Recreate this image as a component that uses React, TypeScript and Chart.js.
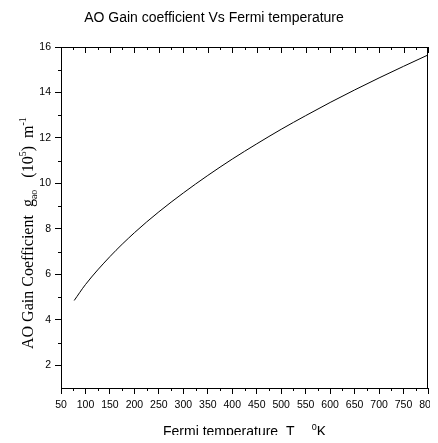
import React, { useEffect, useRef } from "react";
import { Chart, registerables } from "chart.js";

Chart.register(...registerables);

const titleText = "AO Gain coefficient Vs Fermi temperature";
const temperatures = [77, 100, 150, 200, 250, 300, 350, 400, 450, 500, 550, 600, 650, 700, 750, 800];
const gainValues = [4.85, 5.55, 6.78, 7.83, 8.75, 9.58, 10.35, 11.07, 11.74, 12.38, 12.98, 13.56, 14.11, 14.64, 15.15, 15.65];
const xTicks = [50, 100, 150, 200, 250, 300, 350, 400, 450, 500, 550, 600, 650, 700, 750, 800];
const xMinorTicks = [75, 125, 175, 225, 275, 325, 375, 425, 475, 525, 575, 625, 675, 725, 775];
const yTicks = [2, 4, 6, 8, 10, 12, 14, 16];
const yMinorTicks = [3, 5, 7, 9, 11, 13, 15];

const SANS = '"Liberation Sans", Arial, sans-serif';
const SERIF = '"Liberation Serif", "Times New Roman", serif';

type Piece = { t: string; kind: "n" | "sub" | "sup" };

function drawRich(
  ctx: CanvasRenderingContext2D,
  pieces: Piece[],
  size: number,
  family: string,
  anchorX: number,
  baseline: number,
  align: "center" | "start",
  subOffset: number,
  supOffset: number
) {
  const small = Math.round(size * 0.65);
  const fontFor = (k: string) => `${k === "n" ? size : small}px ${family}`;
  let total = 0;
  const widths = pieces.map((p) => {
    ctx.font = fontFor(p.kind);
    const w = ctx.measureText(p.t).width;
    total += w;
    return w;
  });
  let x = align === "center" ? anchorX - total / 2 : anchorX;
  ctx.textAlign = "left";
  ctx.textBaseline = "alphabetic";
  pieces.forEach((p, i) => {
    ctx.font = fontFor(p.kind);
    let y = baseline;
    if (p.kind === "sub") y = baseline + subOffset;
    if (p.kind === "sup") y = baseline - supOffset;
    ctx.fillText(p.t, x, y);
    x += widths[i];
  });
}

const decorations = {
  id: "decorations",
  afterDraw(chart: any) {
    const ctx: CanvasRenderingContext2D = chart.ctx;
    const { left, right, top, bottom } = chart.chartArea;
    const xs = chart.scales.x;
    const ys = chart.scales.y;
    ctx.save();
    ctx.strokeStyle = "#000";
    ctx.lineWidth = 1;
    ctx.beginPath();
    const ty = Math.round(top) + 0.5;
    const rx = Math.round(right) - 0.5;
    ctx.moveTo(left, ty);
    ctx.lineTo(right, ty);
    ctx.moveTo(rx, top);
    ctx.lineTo(rx, bottom);
    xTicks.forEach((v) => {
      const px = Math.round(xs.getPixelForValue(v)) + 0.5;
      ctx.moveTo(px, top);
      ctx.lineTo(px, top + 6);
    });
    xMinorTicks.forEach((v) => {
      const px = Math.round(xs.getPixelForValue(v)) + 0.5;
      ctx.moveTo(px, top);
      ctx.lineTo(px, top + 3);
      ctx.moveTo(px, bottom);
      ctx.lineTo(px, bottom + 3);
    });
    yMinorTicks.forEach((v) => {
      const py = Math.round(ys.getPixelForValue(v)) + 0.5;
      ctx.moveTo(left, py);
      ctx.lineTo(left - 3, py);
    });
    ctx.stroke();

    ctx.fillStyle = "#000";
    drawRich(
      ctx,
      [
        { t: "Fermi temperature  T", kind: "n" },
        { t: "F", kind: "sub" },
        { t: "   ", kind: "n" },
        { t: "0", kind: "sup" },
        { t: "K", kind: "n" },
      ],
      14,
      SANS,
      (left + right) / 2,
      436,
      "center",
      10,
      6
    );
    ctx.save();
    ctx.translate(33, 349);
    ctx.rotate(-Math.PI / 2);
    drawRich(
      ctx,
      [
        { t: "AO Gain Coefficient  g", kind: "n" },
        { t: "ao", kind: "sub" },
        { t: "   (10", kind: "n" },
        { t: "5", kind: "sup" },
        { t: ")  m", kind: "n" },
        { t: "-1", kind: "sup" },
      ],
      16,
      SERIF,
      0,
      0,
      "start",
      4,
      7
    );
    ctx.restore();
    ctx.restore();
  },
};

export default function App() {
  const ref = useRef<HTMLCanvasElement | null>(null);
  useEffect(() => {
    if (!ref.current) return;
    const chart = new Chart(ref.current, {
      type: "line",
      data: {
        datasets: [
          {
            data: temperatures.map((t, i) => ({ x: t, y: gainValues[i] })),
            borderColor: "#000",
            borderWidth: 1,
            pointRadius: 0,
            fill: false,
            cubicInterpolationMode: "monotone",
          },
        ],
      },
      options: {
        animation: false,
        responsive: false,
        layout: { padding: { left: 0, right: 10, top: 0, bottom: 0 } },
        plugins: {
          legend: { display: false },
          tooltip: { enabled: false },
          title: {
            display: true,
            text: titleText,
            color: "#000",
            font: { family: SANS, size: 14, weight: "normal" },
            padding: { top: 10, bottom: 20.2 },
          },
        },
        scales: {
          x: {
            type: "linear",
            min: 50,
            max: 800,
            afterBuildTicks: (s: any) => {
              s.ticks = xTicks.map((v) => ({ value: v }));
            },
            afterFit: (s: any) => {
              s.height = 55;
              s.paddingRight = 0;
              s.paddingLeft = 0;
            },
            ticks: {
              autoSkip: false,
              maxRotation: 0,
              minRotation: 0,
              padding: 5,
              color: "#000",
              font: { family: SANS, size: 10.5 },
            },
            grid: { drawOnChartArea: false, drawTicks: true, tickLength: 6, color: "#000" },
            border: { display: true, color: "#000", width: 1 },
          },
          y: {
            type: "linear",
            min: 1,
            max: 16,
            afterBuildTicks: (s: any) => {
              s.ticks = yTicks.map((v) => ({ value: v }));
            },
            afterFit: (s: any) => {
              s.width = 61;
            },
            ticks: {
              padding: 4,
              color: "#000",
              font: { family: SANS, size: 10.5 },
            },
            grid: { drawOnChartArea: false, drawTicks: true, tickLength: 6, color: "#000" },
            border: { display: true, color: "#000", width: 1 },
          },
        },
      },
      plugins: [decorations],
    } as any);
    return () => chart.destroy();
  }, []);
  return (
    <div style={{ width: 438, height: 443, margin: -8, background: "#fff" }}>
      <canvas ref={ref} width={438} height={443} style={{ display: "block" }} />
    </div>
  );
}
